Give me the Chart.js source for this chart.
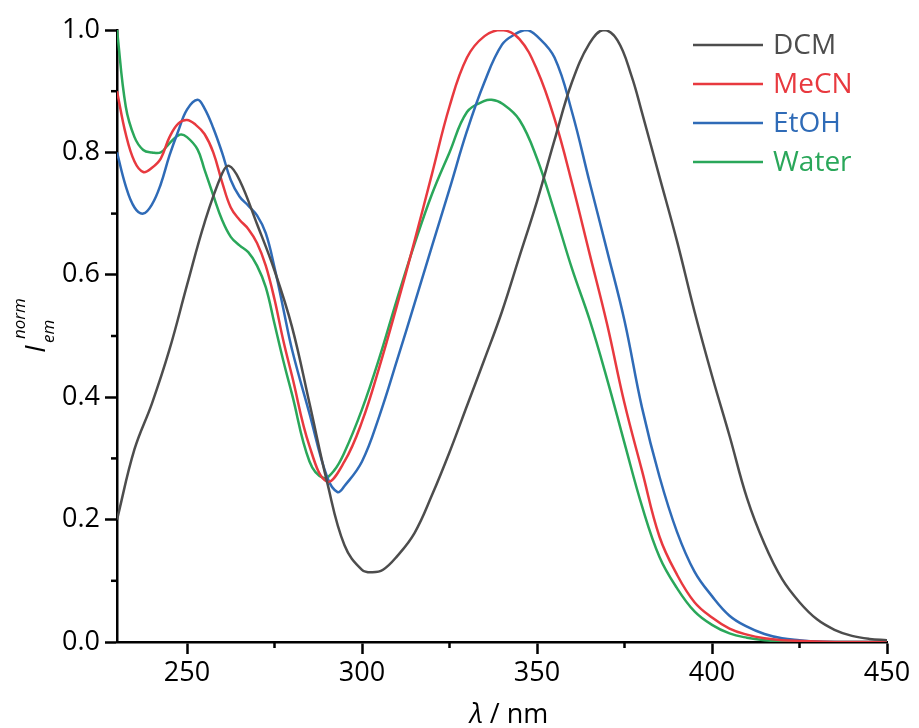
<!DOCTYPE html>
<html>
<head>
<meta charset="utf-8">
<script src="https://cdn.jsdelivr.net/npm/chart.js@4/dist/chart.umd.min.js"></script>
<style>
html,body{margin:0;padding:0;background:#fff;}
canvas{display:block;}
</style>
</head>
<body>
<canvas id="c" width="919" height="728"></canvas>
<script>
// ---- data ----
const seriesNames = ['DCM', 'MeCN', 'EtOH', 'Water'];

const dcmX = [230,235,240,245,250,255,260,262,265,270,275,280,285,290,295,300,303,306,310,315,320,325,330,335,340,345,350,355,360,365,369,373,377,380,385,390,395,400,405,410,415,420,425,430,435,440,445,450];
const dcmY = [0.20,0.315,0.39,0.478,0.583,0.685,0.765,0.778,0.755,0.683,0.607,0.515,0.39,0.262,0.158,0.118,0.114,0.118,0.14,0.178,0.24,0.31,0.386,0.462,0.54,0.63,0.72,0.82,0.915,0.978,1.0,0.983,0.925,0.865,0.76,0.655,0.54,0.435,0.337,0.235,0.16,0.103,0.065,0.037,0.02,0.01,0.005,0.003];

const mecnX = [230,232.5,235,237.5,240,242.5,245,247.5,250,252.5,255,257.5,260,262.5,265,267.5,270,272.5,275,277.5,280,285,290,295,300,305,310,315,320,325,330,335,340,345,350,355,360,365,370,375,380,385,390,395,400,405,410,415,420,430,440,450];
const mecnY = [0.90,0.83,0.785,0.768,0.775,0.79,0.825,0.847,0.853,0.845,0.83,0.80,0.752,0.71,0.69,0.675,0.652,0.615,0.56,0.493,0.435,0.32,0.262,0.295,0.36,0.45,0.55,0.655,0.765,0.875,0.955,0.99,1.0,0.985,0.935,0.855,0.75,0.635,0.52,0.39,0.28,0.172,0.11,0.065,0.04,0.022,0.012,0.006,0.003,0.001,0,0];

const etohX = [230,232.5,235,237.5,240,242.5,245,247.5,250,253,255,257.5,260,262.5,265,267.5,270,272.5,275,277.5,280,285,290,293,295,300,305,310,315,320,325,330,335,340,344,347,350,355,360,365,370,375,380,385,390,395,400,405,410,415,420,425,430,440,450];
const etohY = [0.80,0.745,0.71,0.70,0.715,0.748,0.795,0.835,0.87,0.886,0.872,0.84,0.80,0.755,0.728,0.713,0.697,0.668,0.612,0.545,0.478,0.373,0.27,0.245,0.255,0.295,0.37,0.46,0.553,0.647,0.74,0.835,0.915,0.976,0.994,1.0,0.99,0.955,0.866,0.752,0.64,0.525,0.383,0.27,0.18,0.115,0.075,0.043,0.025,0.013,0.006,0.003,0.001,0,0];

const waterX = [230,232.5,235,237.5,240,242.5,245,248,250,253,255,257.5,260,262.5,265,267.5,270,272.5,275,277.5,280,285,289,292,295,300,305,310,315,320,325,330,335,337,340,345,350,355,360,365,370,375,380,385,390,395,400,405,410,415,420,430,450];
const waterY = [1.0,0.875,0.825,0.804,0.80,0.80,0.815,0.829,0.825,0.805,0.772,0.73,0.69,0.662,0.648,0.637,0.615,0.58,0.52,0.46,0.405,0.295,0.268,0.28,0.31,0.38,0.465,0.56,0.65,0.732,0.80,0.866,0.884,0.886,0.88,0.853,0.79,0.703,0.61,0.527,0.43,0.325,0.222,0.139,0.088,0.05,0.028,0.014,0.007,0.003,0.001,0,0];

const xMajor = [250,300,350,400,450];
const xMinor = [275,325,375,425];
const yMajor = [0.0,0.2,0.4,0.6,0.8,1.0];
const yMinor = [0.1,0.3,0.5,0.7,0.9];

const colors = ['#4d4d4d','#e8393f','#2f6bb7','#2aa75a'];

const toPts = (xs, ys) => xs.map((x, i) => ({x: x, y: ys[i]}));
const allX = [dcmX, mecnX, etohX, waterX];
const allY = [dcmY, mecnY, etohY, waterY];

const FONT = '"Open Sans", "DejaVu Sans", sans-serif';

const overlay = {
  id: 'overlay',
  afterDraw(chart) {
    const ctx = chart.ctx;
    const xs = chart.scales.x, ys = chart.scales.y;
    ctx.save();
    // minor ticks
    ctx.strokeStyle = '#000';
    ctx.lineWidth = 2.5;
    xMinor.forEach(v => {
      const p = xs.getPixelForValue(v);
      ctx.beginPath(); ctx.moveTo(p, ys.bottom); ctx.lineTo(p, ys.bottom + 6); ctx.stroke();
    });
    yMinor.forEach(v => {
      const p = ys.getPixelForValue(v);
      ctx.beginPath(); ctx.moveTo(xs.left, p); ctx.lineTo(xs.left - 6, p); ctx.stroke();
    });
    // x title: λ / nm
    ctx.fillStyle = '#000';
    ctx.textBaseline = 'alphabetic';
    ctx.textAlign = 'left';
    const f1 = 'italic 27px ' + FONT, f2 = '27px ' + FONT;
    ctx.font = f1; const w1 = ctx.measureText('λ').width;
    ctx.font = f2; const w2 = ctx.measureText(' / nm').width;
    const cx = (xs.left + xs.right) / 2 + 7;
    let sx = cx - (w1 + w2) / 2;
    ctx.font = f1; ctx.fillText('λ', sx, 723);
    ctx.font = f2; ctx.fillText(' / nm', sx + w1, 723);
    // y title: I_em^norm (rotated)
    ctx.save();
    ctx.translate(45, 353);
    ctx.rotate(-Math.PI / 2);
    ctx.font = 'italic 28px ' + FONT;
    ctx.fillText('I', 0, 0);
    ctx.font = 'italic 17px ' + FONT;
    ctx.fillText('em', 10, 9);
    ctx.fillText('norm', 14, -20);
    ctx.restore();
    // legend
    ctx.font = '28px ' + FONT;
    ctx.textBaseline = 'middle';
    chart.data.datasets.forEach((ds, i) => {
      const y = 45 + i * 39;
      ctx.strokeStyle = ds.borderColor;
      ctx.lineWidth = 2.5;
      ctx.beginPath(); ctx.moveTo(693, y); ctx.lineTo(763, y); ctx.stroke();
      ctx.fillStyle = ds.borderColor;
      ctx.fillText(ds.label, 773, y + 1);
    });
    ctx.restore();
  }
};

new Chart(document.getElementById('c'), {
  type: 'line',
  data: {
    datasets: seriesNames.map((n, i) => ({
      label: n,
      data: toPts(allX[i], allY[i]),
      borderColor: colors[i],
      backgroundColor: colors[i],
      borderWidth: 2.5,
      pointRadius: 0,
      fill: false,
      tension: 0.4
    }))
  },
  options: {
    responsive: false,
    animation: false,
    layout: {padding: {top: 30, right: 32, left: 0, bottom: 0}},
    plugins: {legend: {display: false}, tooltip: {enabled: false}},
    scales: {
      x: {
        type: 'linear', min: 230, max: 450,
        afterBuildTicks: s => { s.ticks = xMajor.map(v => ({value: v})); },
        afterFit: s => { s.height = 86; },
        grid: {drawOnChartArea: false, drawTicks: true, tickLength: 12, tickWidth: 2.5, tickColor: '#000'},
        border: {color: '#000', width: 2.5},
        ticks: {font: {family: FONT, size: 27}, color: '#000', padding: 3, maxRotation: 0, autoSkip: false,
                callback: v => String(v)}
      },
      y: {
        type: 'linear', min: 0, max: 1,
        afterBuildTicks: s => { s.ticks = yMajor.map(v => ({value: v})); },
        afterFit: s => { s.width = 117; },
        grid: {drawOnChartArea: false, drawTicks: true, tickLength: 12, tickWidth: 2.5, tickColor: '#000'},
        border: {color: '#000', width: 2.5},
        ticks: {font: {family: FONT, size: 27}, color: '#000', padding: 5,
                callback: v => Number(v).toFixed(1)}
      }
    }
  },
  plugins: [overlay]
});
</script>
</body>
</html>
